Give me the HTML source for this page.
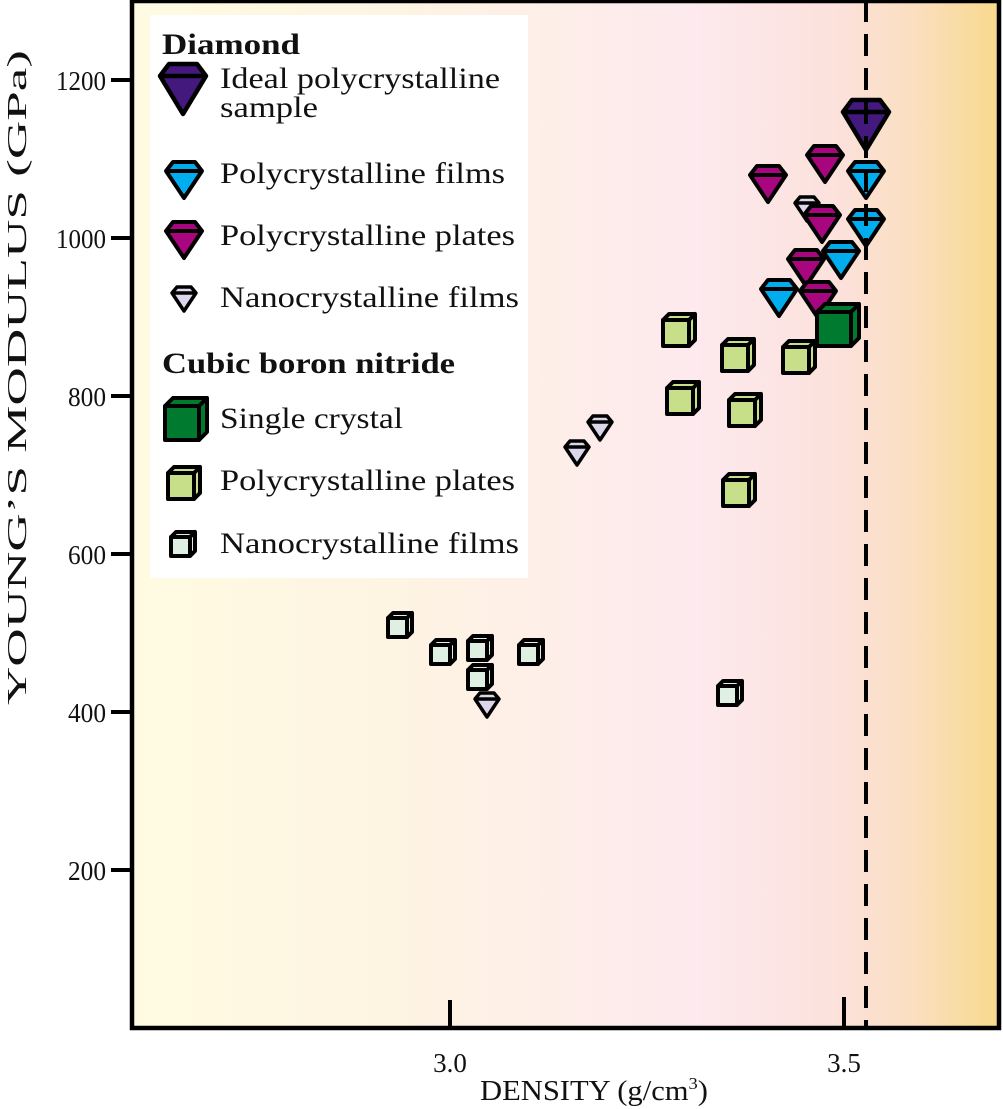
<!DOCTYPE html>
<html><head><meta charset="utf-8"><style>
html,body{margin:0;padding:0;background:#fff;}
svg{display:block;}
text{font-family:"Liberation Serif",serif;fill:#111;}
</style></head><body>
<svg width="1003" height="1109" viewBox="0 0 1003 1109" xmlns="http://www.w3.org/2000/svg">
<defs>
<linearGradient id="bg" x1="132" x2="1000" y1="0" y2="0" gradientUnits="userSpaceOnUse">
<stop offset="0" stop-color="#fffbe2"/>
<stop offset="0.3" stop-color="#fef4e2"/>
<stop offset="0.65" stop-color="#fde9ee"/>
<stop offset="0.82" stop-color="#fbe1da"/>
<stop offset="0.9" stop-color="#fbdfc0"/>
<stop offset="1" stop-color="#f8d98c"/>
</linearGradient>
<g id="gL"><path d="M-14,-22 L14,-22 L23,-10 L0,28 L-23,-10 Z M-23,-10 L23,-10" stroke="#000" stroke-width="4.5" stroke-linejoin="round"/></g>
<g id="gM"><path d="M-11,-16 L11,-16 L18,-7 L0,20 L-18,-7 Z M-18,-7 L18,-7" stroke="#000" stroke-width="4" stroke-linejoin="round"/></g>
<g id="gS"><path d="M-7,-10 L7,-10 L12,-4 L0,14 L-12,-4 Z M-12,-4 L12,-4" stroke="#000" stroke-width="3.5" stroke-linejoin="round"/></g>
<g id="cP"><path d="M-16,-10 L10,-10 L10,16 L-16,16 Z M-16,-10 L-10,-16 L16,-16 L10,-10 Z M10,-10 L16,-16 L16,10 L10,16 Z" stroke="#000" stroke-width="4" stroke-linejoin="round"/></g>
<g id="cG"><path d="M-21,-13 L13,-13 L13,21 L-21,21 Z M-21,-13 L-13,-21 L21,-21 L13,-13 Z M13,-13 L21,-21 L21,13 L13,21 Z" stroke="#000" stroke-width="4" stroke-linejoin="round"/></g>
<g id="cN"><path d="M-12,-7 L7,-7 L7,12 L-12,12 Z M-12,-7 L-7,-12 L12,-12 L7,-7 Z M7,-7 L12,-12 L12,7 L7,12 Z" stroke="#000" stroke-width="4" stroke-linejoin="round"/></g>
</defs>
<rect x="132" y="0" width="868" height="1028" fill="url(#bg)"/>
<rect x="150" y="15" width="378" height="563" fill="#fff"/>
<g font-size="30">
<text x="162" y="54" font-weight="bold" textLength="138" lengthAdjust="spacingAndGlyphs">Diamond</text>
<text x="220" y="88" textLength="280" lengthAdjust="spacingAndGlyphs">Ideal polycrystalline</text>
<text x="220" y="117" textLength="98" lengthAdjust="spacingAndGlyphs">sample</text>
<text x="220" y="183" textLength="285" lengthAdjust="spacingAndGlyphs">Polycrystalline films</text>
<text x="220" y="245" textLength="295" lengthAdjust="spacingAndGlyphs">Polycrystalline plates</text>
<text x="220" y="307" textLength="299" lengthAdjust="spacingAndGlyphs">Nanocrystalline films</text>
<text x="162" y="373" font-weight="bold" textLength="293" lengthAdjust="spacingAndGlyphs">Cubic boron nitride</text>
<text x="220" y="428" textLength="183" lengthAdjust="spacingAndGlyphs">Single crystal</text>
<text x="220" y="490" textLength="295" lengthAdjust="spacingAndGlyphs">Polycrystalline plates</text>
<text x="220" y="553" textLength="299" lengthAdjust="spacingAndGlyphs">Nanocrystalline films</text>
</g>
<use href="#gL" x="183" y="86" fill="#43197d"/>
<use href="#gM" x="184" y="178" fill="#00aeef"/>
<use href="#gM" x="184" y="238" fill="#a8067f"/>
<use href="#gS" x="184" y="297" fill="#dcd6ea"/>
<use href="#cG" x="186" y="419" fill="#007a2e"/>
<use href="#cP" x="184" y="483" fill="#c8df8a"/>
<use href="#cN" x="183" y="544" fill="#dff0e3"/>
<use href="#cN" x="400" y="625" fill="#dff0e3"/>
<use href="#cN" x="443" y="652" fill="#dff0e3"/>
<use href="#cN" x="531" y="652" fill="#dff0e3"/>
<use href="#cN" x="480" y="677" fill="#dff0e3"/>
<use href="#cN" x="480" y="648" fill="#dff0e3"/>
<use href="#cN" x="730" y="693" fill="#dff0e3"/>
<use href="#gS" x="487" y="703" fill="#dcd6ea"/>
<use href="#gS" x="577" y="451" fill="#dcd6ea"/>
<use href="#gS" x="600" y="426" fill="#dcd6ea"/>
<use href="#cP" x="679" y="330" fill="#c8df8a"/>
<use href="#cP" x="683" y="398" fill="#c8df8a"/>
<use href="#cP" x="738" y="355" fill="#c8df8a"/>
<use href="#cP" x="745" y="410" fill="#c8df8a"/>
<use href="#cP" x="739" y="490" fill="#c8df8a"/>
<use href="#cP" x="799" y="357" fill="#c8df8a"/>
<use href="#gM" x="768" y="182" fill="#a8067f"/>
<use href="#gM" x="825" y="162" fill="#a8067f"/>
<use href="#gS" x="807" y="207" fill="#dcd6ea"/>
<use href="#gM" x="822" y="222" fill="#a8067f"/>
<use href="#gM" x="779" y="296" fill="#00aeef"/>
<use href="#gM" x="806" y="266" fill="#a8067f"/>
<use href="#gM" x="841" y="258" fill="#00aeef"/>
<use href="#gM" x="818" y="298" fill="#a8067f"/>
<use href="#cG" x="838" y="325" fill="#007a2e"/>
<use href="#gM" x="866" y="178" fill="#00aeef"/>
<use href="#gM" x="866" y="226" fill="#00aeef"/>
<use href="#gL" x="866" y="122" fill="#43197d"/>
<line x1="866" y1="0" x2="866" y2="1026" stroke="#000" stroke-width="4" stroke-dasharray="22,12"/>
<g stroke="#000" stroke-width="4">
<line x1="450" y1="1000" x2="450" y2="1028"/>
<line x1="844" y1="997" x2="844" y2="1028"/>
<line x1="111" y1="80" x2="132" y2="80"/>
<line x1="111" y1="238" x2="132" y2="238"/>
<line x1="111" y1="396" x2="132" y2="396"/>
<line x1="111" y1="554" x2="132" y2="554"/>
<line x1="111" y1="712" x2="132" y2="712"/>
<line x1="111" y1="870" x2="132" y2="870"/>
</g>
<rect x="132" y="1" width="867" height="1027" fill="none" stroke="#000" stroke-width="4.5"/>
<g font-size="27" text-anchor="end">
<text x="106" y="90" textLength="50" lengthAdjust="spacingAndGlyphs">1200</text>
<text x="106" y="248" textLength="50" lengthAdjust="spacingAndGlyphs">1000</text>
<text x="106" y="406" textLength="38" lengthAdjust="spacingAndGlyphs">800</text>
<text x="106" y="564" textLength="38" lengthAdjust="spacingAndGlyphs">600</text>
<text x="106" y="722" textLength="38" lengthAdjust="spacingAndGlyphs">400</text>
<text x="106" y="880" textLength="38" lengthAdjust="spacingAndGlyphs">200</text>
</g>
<text x="450" y="1072" font-size="27" text-anchor="middle">3.0</text>
<text x="844" y="1072" font-size="27" text-anchor="middle">3.5</text>
<text x="480" y="1100" font-size="28" textLength="228" lengthAdjust="spacingAndGlyphs">DENSITY (g/cm<tspan font-size="17" dy="-11">3</tspan><tspan dy="11">)</tspan></text>
<text transform="translate(26,705) rotate(-90)" font-size="27" textLength="655" lengthAdjust="spacingAndGlyphs">YOUNG’S MODULUS (GPa)</text>
</svg>
</body></html>
